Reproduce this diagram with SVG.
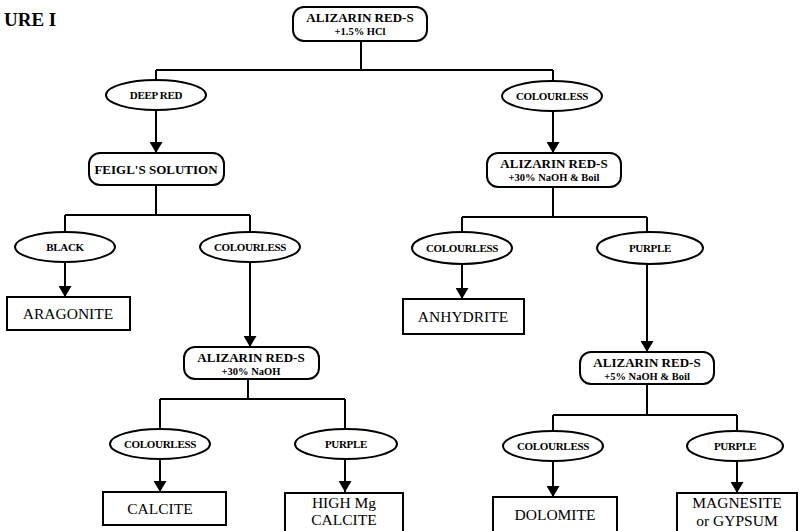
<svg xmlns="http://www.w3.org/2000/svg" width="805" height="531" viewBox="0 0 805 531">
<defs>
<style>
.bg{fill:#fff}
.ln{stroke:#000;stroke-width:2;fill:none}
.arr{stroke:#000;stroke-width:2;fill:none;marker-end:url(#ah)}
.rb{fill:#fff;stroke:#000;stroke-width:2}
.el{fill:#fff;stroke:#000;stroke-width:2}
.bx{fill:#fff;stroke:#000;stroke-width:2}
text{font-family:"Liberation Serif","Times New Roman",serif;fill:#000;text-anchor:middle}
.t1{font-size:13px;font-weight:bold}
.t2{font-size:10.5px;font-weight:bold}
.te{font-size:11px;font-weight:bold;letter-spacing:-0.3px}
.tm{font-size:15.5px}
.fig{font-size:19px;font-weight:bold;text-anchor:start}
</style>
<marker id="ah" viewBox="0 0 11 13" refX="11" refY="6.5" markerWidth="11" markerHeight="13" markerUnits="userSpaceOnUse" orient="auto">
<path d="M0,0 L11,6.5 L0,13 Z" fill="#000"/>
</marker>
</defs>
<rect class="bg" x="0" y="0" width="805" height="531"/>
<text class="fig" x="4" y="26">URE I</text>

<g id="connectors">
<path class="ln" d="M361,41 V70 M156,70 H553 M156,70 V80 M553,70 V81"/>
<path class="arr" d="M156,110 V153"/>
<path class="arr" d="M553,111 V153"/>
<path class="ln" d="M156,185 V215 M65,215 H250 M65,215 V232 M250,215 V232"/>
<path class="arr" d="M65,262 V297"/>
<path class="arr" d="M250,262 V347"/>
<path class="ln" d="M248,379 V399 M160,399 H345 M160,399 V429 M345,399 V429"/>
<path class="arr" d="M160,459 V492"/>
<path class="arr" d="M345,459 V492"/>
<path class="ln" d="M553,187 V217 M462,217 H647 M462,217 V232 M647,217 V232"/>
<path class="arr" d="M462,264 V299"/>
<path class="arr" d="M647,264 V352"/>
<path class="ln" d="M647,384 V415 M553,415 H737 M553,415 V430 M737,415 V430"/>
<path class="arr" d="M553,461 V497"/>
<path class="arr" d="M737,461 V493"/>
</g>

<g id="n_top">
<rect class="rb" x="293" y="7" width="134" height="34" rx="11"/>
<text class="t1" x="360" y="22">ALIZARIN RED-S</text>
<text class="t2" x="360" y="35">+1.5% HCl</text>
</g>
<g id="n_deepred">
<ellipse class="el" cx="156" cy="95" rx="50" ry="15"/>
<text class="te" x="156" y="99">DEEP RED</text>
</g>
<g id="n_colourless1">
<ellipse class="el" cx="552" cy="96" rx="50" ry="15"/>
<text class="te" x="552" y="100">COLOURLESS</text>
</g>
<g id="n_feigl">
<rect class="rb" x="89" y="153" width="135" height="32" rx="11"/>
<text class="t1" x="156" y="174">FEIGL'S SOLUTION</text>
</g>
<g id="n_alizarin_boil">
<rect class="rb" x="487" y="153" width="134" height="34" rx="11"/>
<text class="t1" x="554" y="168">ALIZARIN RED-S</text>
<text class="t2" x="554" y="181">+30% NaOH &amp; Boil</text>
</g>
<g id="n_black">
<ellipse class="el" cx="65" cy="247" rx="50" ry="15"/>
<text class="te" x="65" y="251">BLACK</text>
</g>
<g id="n_colourless2">
<ellipse class="el" cx="250" cy="247" rx="50" ry="15"/>
<text class="te" x="250" y="251">COLOURLESS</text>
</g>
<g id="n_aragonite">
<rect class="bx" x="7" y="297" width="123" height="33"/>
<text class="tm" x="68" y="319">ARAGONITE</text>
</g>
<g id="n_alizarin_naoh">
<rect class="rb" x="184" y="347" width="135" height="32" rx="11"/>
<text class="t1" x="251" y="362">ALIZARIN RED-S</text>
<text class="t2" x="251" y="375">+30% NaOH</text>
</g>
<g id="n_colourless3">
<ellipse class="el" cx="160" cy="444" rx="50" ry="15"/>
<text class="te" x="160" y="448">COLOURLESS</text>
</g>
<g id="n_purple1">
<ellipse class="el" cx="346" cy="444" rx="51" ry="15"/>
<text class="te" x="346" y="448">PURPLE</text>
</g>
<g id="n_calcite">
<rect class="bx" x="103" y="492" width="123" height="33"/>
<text class="tm" x="160" y="514">CALCITE</text>
</g>
<g id="n_highmg">
<rect class="bx" x="285" y="493" width="118" height="42"/>
<text class="tm" x="344" y="508">HIGH Mg</text>
<text class="tm" x="344" y="525">CALCITE</text>
</g>
<g id="n_colourless4">
<ellipse class="el" cx="462" cy="248" rx="50" ry="16"/>
<text class="te" x="462" y="252">COLOURLESS</text>
</g>
<g id="n_purple2">
<ellipse class="el" cx="650" cy="248" rx="53" ry="16"/>
<text class="te" x="650" y="252">PURPLE</text>
</g>
<g id="n_anhydrite">
<rect class="bx" x="403" y="299" width="121" height="35"/>
<text class="tm" x="463" y="322">ANHYDRITE</text>
</g>
<g id="n_alizarin_5">
<rect class="rb" x="580" y="352" width="134" height="32" rx="11"/>
<text class="t1" x="647" y="367">ALIZARIN RED-S</text>
<text class="t2" x="647" y="380">+5% NaOH &amp; Boil</text>
</g>
<g id="n_colourless5">
<ellipse class="el" cx="553" cy="446" rx="50" ry="15"/>
<text class="te" x="553" y="450">COLOURLESS</text>
</g>
<g id="n_purple3">
<ellipse class="el" cx="735" cy="446" rx="48" ry="15"/>
<text class="te" x="735" y="450">PURPLE</text>
</g>
<g id="n_dolomite">
<rect class="bx" x="493" y="497" width="124" height="40"/>
<text class="tm" x="555" y="520">DOLOMITE</text>
</g>
<g id="n_magnesite">
<rect class="bx" x="677" y="493" width="120" height="42"/>
<text class="tm" x="737" y="508">MAGNESITE</text>
<text class="tm" x="737" y="526">or GYPSUM</text>
</g>
</svg>
